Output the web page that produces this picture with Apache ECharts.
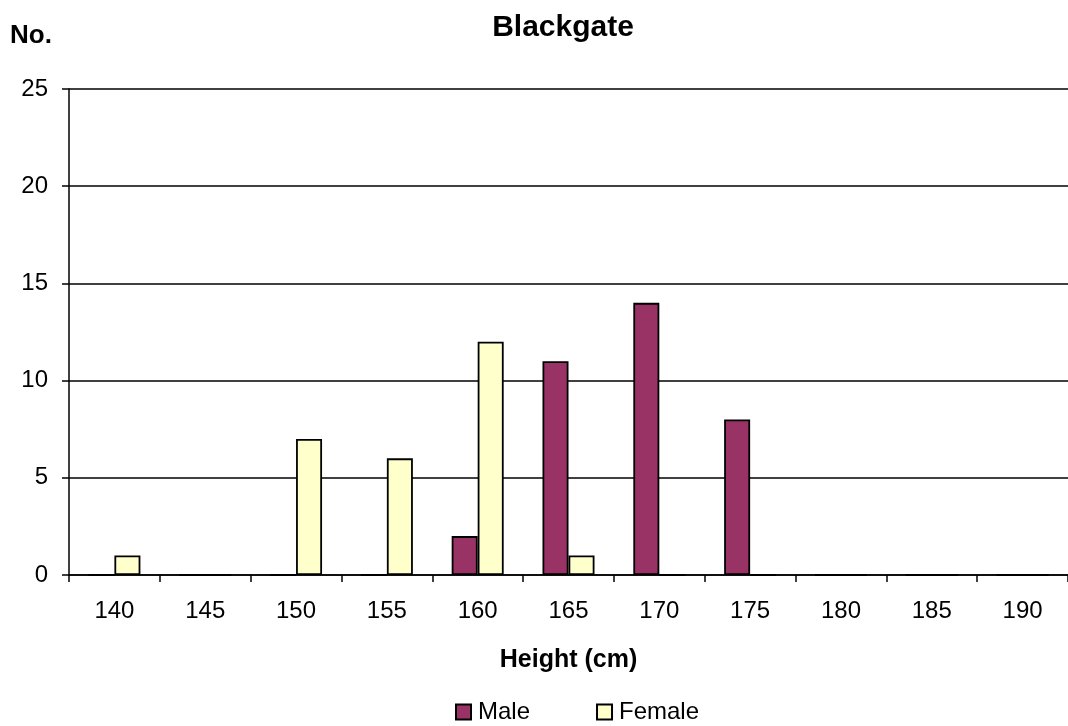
<!DOCTYPE html>
<html>
<head>
<meta charset="utf-8">
<script src="https://cdn.jsdelivr.net/npm/echarts@6/dist/echarts.min.js"></script>
<style>
  html, body { margin: 0; padding: 0; background: #fff; }
  #chart { width: 1068px; height: 726px; }
</style>
</head>
<body>
<div id="chart"></div>
<script>
// Height classes (cm) and counts per class
const heights = ['140', '145', '150', '155', '160', '165', '170', '175', '180', '185', '190'];
const male   = [0, 0, 0, 0, 2, 11, 14, 8, 0, 0, 0];
const female = [1, 0, 7, 6, 12, 1, 0, 0, 0, 0, 0];
const yTicks = [0, 5, 10, 15, 20, 25];

const font = 'Arial, "Liberation Sans", sans-serif';
const chart = echarts.init(document.getElementById('chart'));

chart.setOption({
  animation: false,
  backgroundColor: '#ffffff',
  title: {
    text: 'Blackgate',
    left: 558,
    textAlign: 'center',
    top: 8,
    textStyle: { fontFamily: font, fontWeight: 'bold', fontSize: 30, color: '#000' }
  },
  graphic: [{
    type: 'text',
    left: 10,
    top: 23,
    style: { text: 'No.', font: 'bold 26px ' + font, fill: '#000' }
  }],
  legend: {
    data: ['Male', 'Female'],
    left: 450,
    top: 695,
    itemWidth: 15,
    itemHeight: 15,
    itemGap: 66,
    textStyle: { fontFamily: font, fontSize: 24, color: '#000', padding: [0, 0, 0, 2] },
    icon: 'rect'
  },
  grid: { left: 69, top: 89, width: 1002, height: 486, containLabel: false },
  xAxis: {
    type: 'category',
    data: heights,
    name: 'Height (cm)',
    nameLocation: 'middle',
    nameGap: 73,
    nameTextStyle: { fontFamily: font, fontWeight: 'bold', fontSize: 25, color: '#000' },
    axisLine: { lineStyle: { color: '#000', width: 1.5 } },
    axisTick: { show: true, alignWithLabel: false, length: 7, lineStyle: { color: '#000', width: 1.5 } },
    axisLabel: { fontFamily: font, fontSize: 24, color: '#000', margin: 24 },
    splitLine: { show: false }
  },
  yAxis: {
    type: 'value',
    min: yTicks[0],
    max: yTicks[yTicks.length - 1],
    interval: 5,
    axisLine: { show: true, lineStyle: { color: '#000', width: 1.5 } },
    axisTick: { show: true, length: 7, lineStyle: { color: '#000', width: 1.5 } },
    axisLabel: { fontFamily: font, fontSize: 24, color: '#000', margin: 21 },
    splitLine: { show: true, lineStyle: { color: '#000', width: 1.5 } }
  },
  series: [
    {
      name: 'Male',
      type: 'bar',
      data: male,
      barWidth: 26,
      barGap: '0%',
      itemStyle: { color: '#993366', borderColor: '#000', borderWidth: 1.8 }
    },
    {
      name: 'Female',
      type: 'bar',
      data: female,
      barWidth: 26,
      barGap: '0%',
      itemStyle: { color: '#ffffcc', borderColor: '#000', borderWidth: 1.8 }
    }
  ]
});
</script>
</body>
</html>
